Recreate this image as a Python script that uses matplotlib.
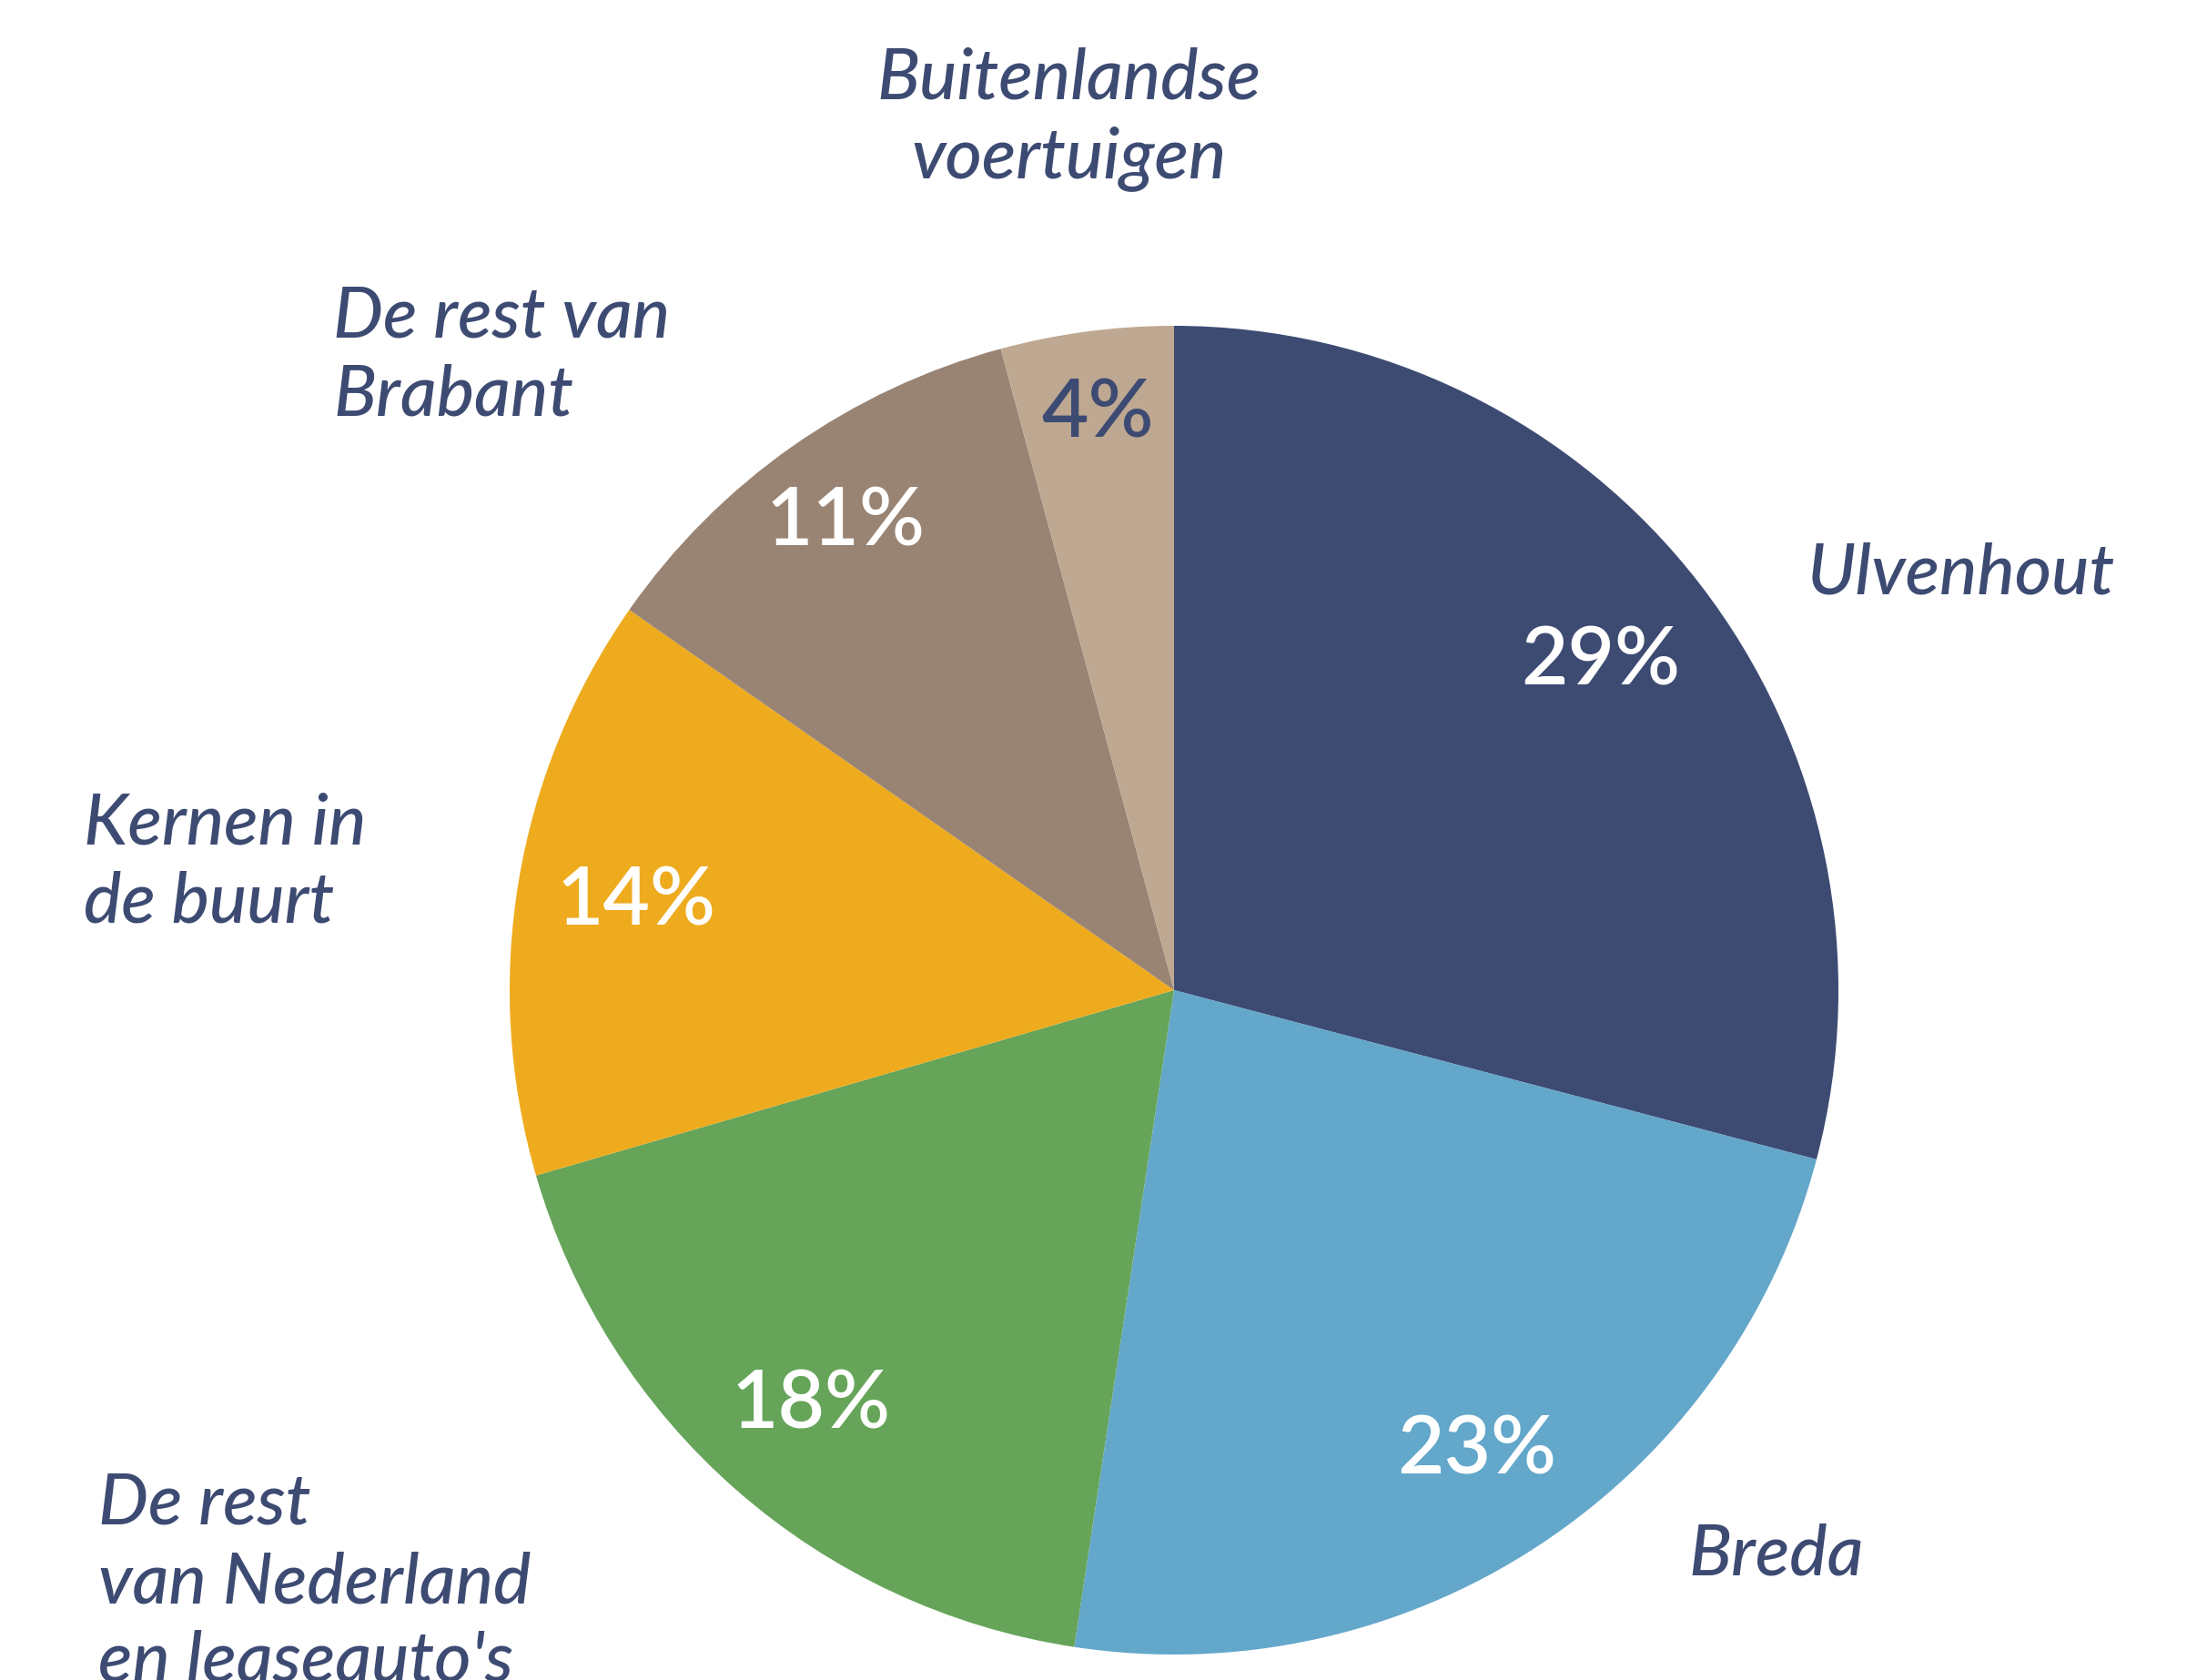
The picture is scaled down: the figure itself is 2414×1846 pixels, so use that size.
import numpy as np
import matplotlib.pyplot as plt

plt.rcParams['font.family'] = ['Lato', 'DejaVu Sans']

# values (percent)
regions = ['Ulvenhout', 'Breda', "De rest\nvan Nederland\nen leaseauto's",
           'Kernen in\nde buurt', 'De rest van\nBrabant', 'Buitenlandse\nvoertuigen']
shares = [29.1, 23.3, 18.1, 14.2, 11.1, 4.2]
pct_labels = ['29%', '23%', '18%', '14%', '11%', '4%']

colors = ['#3d4b73', '#63a7ca', '#65a459', '#eeab1e', '#998373', '#bea891']
pct_colors = ['white', 'white', 'white', 'white', 'white', '#3d4b73']
pct_dist = [0.81, 0.83, 0.83, 0.82, 0.86, 0.875]

# label anchor points in figure fraction + alignment
label_pos = [(0.8227, 0.658, 'left'), (0.7685, 0.0742, 'left'),
             (0.0446, 0.0575, 'left'), (0.0383, 0.486, 'left'),
             (0.1518, 0.7877, 'left'), (0.4866, 0.929, 'center')]

navy = '#3d4b73'
W, H = 2414, 1846
fig = plt.figure(figsize=(W / 100, H / 100), dpi=100)
fig.patch.set_facecolor('white')

cx, cy, r = 1290, 1088, 730
ax = fig.add_axes([(cx - r) / W, (H - cy - r) / H, 2 * r / W, 2 * r / H])
wedges, _ = ax.pie(shares, colors=colors, startangle=90, counterclock=False,
                   radius=1, wedgeprops=dict(linewidth=0))
ax.set_xlim(-1, 1)
ax.set_ylim(-1, 1)
ax.set_aspect('equal')
ax.axis('off')

for w, lab, col, d in zip(wedges, pct_labels, pct_colors, pct_dist):
    ang = np.deg2rad((w.theta1 + w.theta2) / 2)
    ax.text(d * np.cos(ang), d * np.sin(ang), lab, color=col,
            fontsize=64, fontweight='semibold', ha='center', va='center')

for name, (x, y, ha) in zip(regions, label_pos):
    fig.text(x, y, name, ha=ha, va='center', multialignment=ha,
             color=navy, fontsize=56, fontstyle='italic', fontweight='medium',
             linespacing=1.27)

fig.savefig('out.png', dpi=100, facecolor='white')
